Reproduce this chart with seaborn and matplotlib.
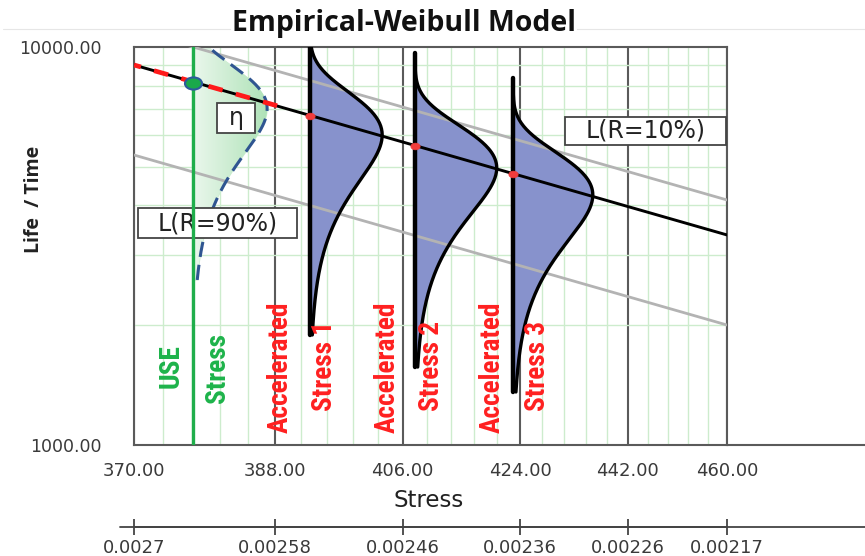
import numpy as np
import pandas as pd
import matplotlib
matplotlib.use("Agg")
import matplotlib.pyplot as plt
import seaborn as sns
from matplotlib import font_manager
from matplotlib.path import Path
from matplotlib.transforms import Affine2D
from matplotlib.patches import Rectangle
from matplotlib.lines import Line2D
from matplotlib.colors import LinearSegmentedColormap

# ---- data ----
stress_ticks = [370, 388, 406, 424, 442, 460]
stress_labels = ["370.00", "388.00", "406.00", "424.00", "442.00", "460.00"]
inv_labels = ["0.0027", "0.00258", "0.00246", "0.00236", "0.00226", "0.00217"]
minor_stress = [370 + 3.6 * k for k in range(1, 25) if k % 5 != 0]
life_ticks = [1000, 10000]
life_tick_labels = ["1000.00", "10000.00"]
life_minor = [2000, 3000, 4000, 5000, 6000, 7000, 8000, 9000]

# life-stress lines (values at both ends of the stress range)
line_stress = [370, 460]
life_eta = [9012, 3371]
life_r10 = [11030, 4127]
life_r90 = [5353, 2002]
red_stress = [370, 389.5]
red_life = [9012, 7017]

# use stress and its pdf
use_stress = 377.3
use_life = 8121
use_pdf_peak_stress = 387.0
use_pdf_mode = 7000
use_pdf_range = [2598, 10000]

# accelerated stresses and their pdfs
acc_stress = [392.8, 407.8, 422.9]
acc_life = [6707, 5640, 4797]
pdf_peak_stress = [403.0, 420.3, 436.0]
pdf_mode = [6009, 4966, 4247]
pdf_low = [1890, 1570, 1359]
pdf_high = [10000, 9660, 8360]
beta = 3.8


def inv(s):
    return 1.0 / np.asarray(s, dtype=float)


def weibull_shape(t, mode):
    z = beta * np.log(t / mode)
    return np.exp(z - np.exp(z) + 1.0)


sns.set_theme(style="white")
names = {f.name for f in font_manager.fontManager.ttflist}
narrow = "DejaVu Sans"
for cand in ["Liberation Sans Narrow", "Roboto Condensed", "DejaVu Sans Condensed",
             "Open Sans Condensed", "Noto Sans Condensed", "Roboto", "Liberation Sans"]:
    if cand in names:
        narrow = cand
        break
plt.rcParams["font.family"] = ["DejaVu Sans"]

fig = plt.figure(figsize=(8.65, 5.56), dpi=100)
ax = fig.add_axes([134 / 865, 111 / 556, 593 / 865, 398 / 556])
ax.set_yscale("log")

fill_blue = "#8792cc"

# green use-stress pdf with gradient
t_use = np.geomspace(use_pdf_range[0], use_pdf_range[1], 300)
x_use = inv(use_stress) + (inv(use_pdf_peak_stress) - inv(use_stress)) * weibull_shape(t_use, use_pdf_mode)
poly = ax.fill_betweenx(t_use, inv(use_stress), x_use, color="#c8ecce", lw=0, zorder=1.5)
grad = np.linspace(0, 1, 256).reshape(1, -1)
cmap = LinearSegmentedColormap.from_list("g", ["#eaf7ec", "#aee2b7"])
im = ax.imshow(grad, extent=[inv(use_stress), inv(use_pdf_peak_stress), 1000, 10000],
               aspect="auto", cmap=cmap, origin="lower", zorder=1.6)
im.set_clip_path(poly.get_paths()[0], transform=ax.transData)
sns.lineplot(x=x_use, y=t_use, sort=False, estimator=None, ax=ax, color="#2f5591", lw=2.2,
             linestyle=(0, (5.0, 2.6)), zorder=3.5)

# accelerated stress pdfs
for s, sp, m, lo, hi in zip(acc_stress, pdf_peak_stress, pdf_mode, pdf_low, pdf_high):
    t = np.geomspace(lo, hi, 300)
    xc = inv(s) + (inv(sp) - inv(s)) * weibull_shape(t, m)
    ax.fill_betweenx(t, inv(s), xc, color=fill_blue, lw=0, zorder=2)
    sns.lineplot(x=xc, y=t, sort=False, estimator=None, ax=ax, color="black", lw=2.4, zorder=4)
    sns.lineplot(x=inv([s, s]), y=[lo, hi], sort=False, estimator=None, ax=ax,
                 color="black", lw=3.2, zorder=4)

# life lines
sns.lineplot(x=inv(line_stress), y=life_r10, estimator=None, ax=ax, color="#b3b3b3", lw=2.0, zorder=3)
sns.lineplot(x=inv(line_stress), y=life_r90, estimator=None, ax=ax, color="#b3b3b3", lw=2.0, zorder=3)
sns.lineplot(x=inv(line_stress), y=life_eta, estimator=None, ax=ax, color="black", lw=2.1, zorder=5)
sns.lineplot(x=inv(red_stress), y=red_life, estimator=None, ax=ax, color="#ff1a1a", lw=3.4,
             linestyle=(4.1, (3.1, 2.9)), zorder=5.5)

# use stress line
sns.lineplot(x=inv([use_stress, use_stress]), y=[1000, 10000], sort=False, estimator=None,
             ax=ax, color="#1fae4b", lw=2.4, zorder=7)

# dots
ell = Path.unit_circle().transformed(Affine2D().scale(1.4, 1.0))
sns.scatterplot(x=inv([use_stress]), y=[use_life], ax=ax, marker=ell, s=150,
                color="#1aa84a", edgecolor="#2d5a9c", linewidth=1.5, zorder=8)
sns.scatterplot(x=inv(acc_stress), y=acc_life, ax=ax, marker=ell, s=45,
                color="#f23c3c", edgecolor="#f23c3c", linewidth=0.5, zorder=8)

# axes setup
ax.set_xlim(inv(370), inv(460))
ax.set_ylim(1000, 10000)
ax.set_xticks(inv(stress_ticks), labels=stress_labels)
ax.set_xticks(inv(minor_stress), minor=True)
ax.set_yticks(life_ticks, labels=life_tick_labels)
ax.set_yticks(life_minor, labels=[""] * len(life_minor), minor=True)
ax.set_axisbelow(True)
ax.grid(which="minor", color="#cdeccd", lw=1.0)
ax.grid(which="major", axis="x", color="#5a5a5a", lw=1.5)
for sp in ax.spines.values():
    sp.set_color("#5a5a5a")
    sp.set_linewidth(1.5)
ax.tick_params(which="minor", length=0)
ax.tick_params(axis="y", which="major", length=10, width=1.5, color="#5a5a5a",
               pad=13, labelsize=12.5, labelcolor="#3a3a3a")
ax.tick_params(axis="x", which="major", length=5, width=1.5, color="#5a5a5a",
               pad=7, labelsize=13, labelcolor="#3a3a3a")

ax.set_xlabel("Stress", fontsize=16.5, color="#222222")
ax.xaxis.set_label_coords(0.496, -0.11)
ax.set_ylabel("Life  / Time", fontsize=14, fontweight="bold", color="#222222",
              family=["Open Sans", "DejaVu Sans"])
ax.yaxis.set_label_coords(-0.152, 0.616)

# secondary 1/stress axis
sec = ax.secondary_xaxis(-0.206)
sec.set_xticks(inv(stress_ticks), labels=inv_labels)
sec.tick_params(axis="x", direction="inout", length=12, width=1.3, color="#444444",
                pad=3, labelsize=13, labelcolor="#3a3a3a")
sec.spines["bottom"].set_color("#444444")
sec.spines["bottom"].set_linewidth(1.3)

# extended lines outside axes
fig.add_artist(Line2D([120 / 865, 1], [(556 - 527) / 556] * 2, color="#444444", lw=1.3))
fig.add_artist(Line2D([727 / 865, 1], [111 / 556] * 2, color="#5a5a5a", lw=1.5))
fig.add_artist(Line2D([3 / 865, 1], [(556 - 29) / 556] * 2, color="#e6e6e6", lw=0.8))

# boxed labels
boxes = [("η", 0.140, 0.784, 0.064, 0.075, 17),
         ("L(R=10%)", 0.727, 0.754, 0.2715, 0.070, 17),
         ("L(R=90%)", 0.0067, 0.520, 0.268, 0.075, 17)]
for txt, x0, y0, w, h, fs in boxes:
    ax.add_patch(Rectangle((x0, y0), w, h, transform=ax.transAxes, fc="white",
                           ec="#444444", lw=1.3, zorder=6))
    ax.text(x0 + w / 2, y0 + h / 2, txt, transform=ax.transAxes, ha="center",
            va="center", fontsize=fs, color="#222222", zorder=6.5)

# rotated stress labels, sized so "Accelerated" spans ~131 px like the reference
renderer = fig.canvas.get_renderer()
probe = fig.text(0, 0, "Accelerated", fontsize=20, fontweight="bold", family=[narrow, "DejaVu Sans"])
rot_fs = 20 * 131 / probe.get_window_extent(renderer).width
probe.remove()

green, red = "#1db34a", "#ff2020"
rot_labels = [("USE", green, 0.062, 0.143), ("Stress", green, 0.140, 0.106),
              ("Accelerated", red, 0.246, 0.030), ("Stress 1", red, 0.322, 0.085),
              ("Accelerated", red, 0.427, 0.030), ("Stress 2", red, 0.501, 0.085),
              ("Accelerated", red, 0.604, 0.030), ("Stress 3", red, 0.681, 0.085)]
for txt, col, fx, fy in rot_labels:
    ax.text(fx, fy, txt, transform=ax.transAxes, rotation=90, ha="center", va="bottom",
            fontsize=rot_fs, fontweight="bold", color=col, family=[narrow, "DejaVu Sans"], zorder=9)

fig.text(404 / 865, (556 - 24) / 556, "Empirical-Weibull Model", ha="center", va="center",
         fontsize=20.5, fontweight="bold", family=["Open Sans", "DejaVu Sans"], color="#111111",
         bbox=dict(fc="white", ec="none", pad=1))

ax.set_xlim(inv(370), inv(460))
ax.set_ylim(1000, 10000)
fig.savefig("out.png", dpi=100)
